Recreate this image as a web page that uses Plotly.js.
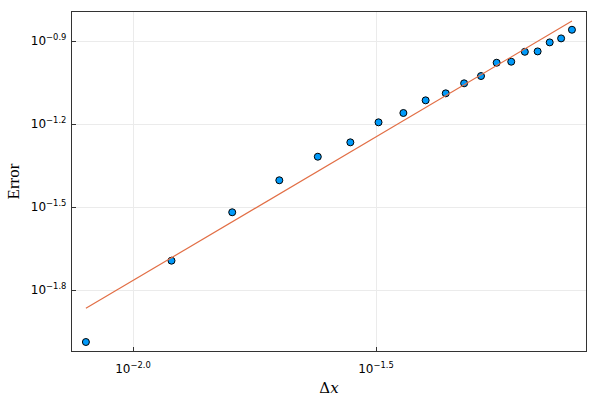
<!DOCTYPE html>
<html>
<head>
<meta charset="utf-8">
<script src="https://cdn.plot.ly/plotly-3.0.1.min.js"></script>
<style>
  html, body { margin: 0; padding: 0; background: #fff; }
  #graph { width: 598px; height: 399px; }
</style>
</head>
<body>
<div id="graph"></div>
<script>
// step sizes and measured errors
let dx = [0.008, 0.012, 0.016, 0.020, 0.024, 0.028, 0.032, 0.036, 0.040, 0.044,
          0.048, 0.052, 0.056, 0.060, 0.064, 0.068, 0.072, 0.076, 0.080];
let err = [0.01028, 0.02023, 0.03027, 0.03951, 0.04807, 0.05418, 0.06400, 0.06917, 0.07686, 0.08147,
           0.08855, 0.09408, 0.1051, 0.1060, 0.1151, 0.1155, 0.1245, 0.1287, 0.1383];

// fitted reference line (end points)
let fitX = [0.008, 0.080];
let fitY = [0.01361, 0.1487];

let xTickVals = [Math.pow(10, -2.0), Math.pow(10, -1.5)];
let xTickText = ['10<sup>\u22122.0</sup>', '10<sup>\u22121.5</sup>'];
let yTickVals = [Math.pow(10, -1.8), Math.pow(10, -1.5), Math.pow(10, -1.2), Math.pow(10, -0.9)];
let yTickText = ['10<sup>\u22121.8</sup>', '10<sup>\u22121.5</sup>', '10<sup>\u22121.2</sup>', '10<sup>\u22120.9</sup>'];

var trace1 = {
    x: dx,
    y: err,
    mode: 'markers',
    type: 'scatter',
    marker: {
        color: '#009AFA',
        size: 7,
        line: { color: '#000000', width: 1 }
    },
    showlegend: false
};

var trace2 = {
    x: fitX,
    y: fitY,
    mode: 'lines',
    type: 'scatter',
    line: { color: '#E26F46', width: 1.2 },
    showlegend: false
};

var axisCommon = {
    type: 'log',
    showline: true,
    linecolor: '#333333',
    linewidth: 1.2,
    mirror: true,
    ticks: 'inside',
    ticklen: 4,
    tickcolor: '#333333',
    showgrid: true,
    gridcolor: '#ebebeb',
    gridwidth: 1,
    zeroline: false,
    tickfont: { family: 'DejaVu Sans, sans-serif', size: 12, color: '#000' }
};

var layout = {
    width: 598,
    height: 399,
    margin: { l: 72, r: 12, t: 12, b: 48 },
    paper_bgcolor: '#ffffff',
    plot_bgcolor: '#ffffff',
    xaxis: Object.assign({}, axisCommon, {
        range: [-2.1255, -1.068],
        tickmode: 'array',
        tickvals: xTickVals,
        ticktext: xTickText,
        ticklabelstandoff: 6,
        title: {
            text: '\u0394<i>x</i>',
            font: { family: 'DejaVu Serif, Liberation Serif, serif', size: 15, color: '#000' },
            standoff: 8
        }
    }),
    yaxis: Object.assign({}, axisCommon, {
        range: [-2.0205, -0.795],
        tickmode: 'array',
        tickvals: yTickVals,
        ticktext: yTickText,
        ticklabelstandoff: 2,
        title: {
            text: 'Error',
            font: { family: 'Liberation Serif, DejaVu Serif, serif', size: 17, color: '#000' },
            standoff: 6
        }
    })
};

Plotly.newPlot('graph', [trace1, trace2], layout, { displayModeBar: false, staticPlot: true });
</script>
</body>
</html>
